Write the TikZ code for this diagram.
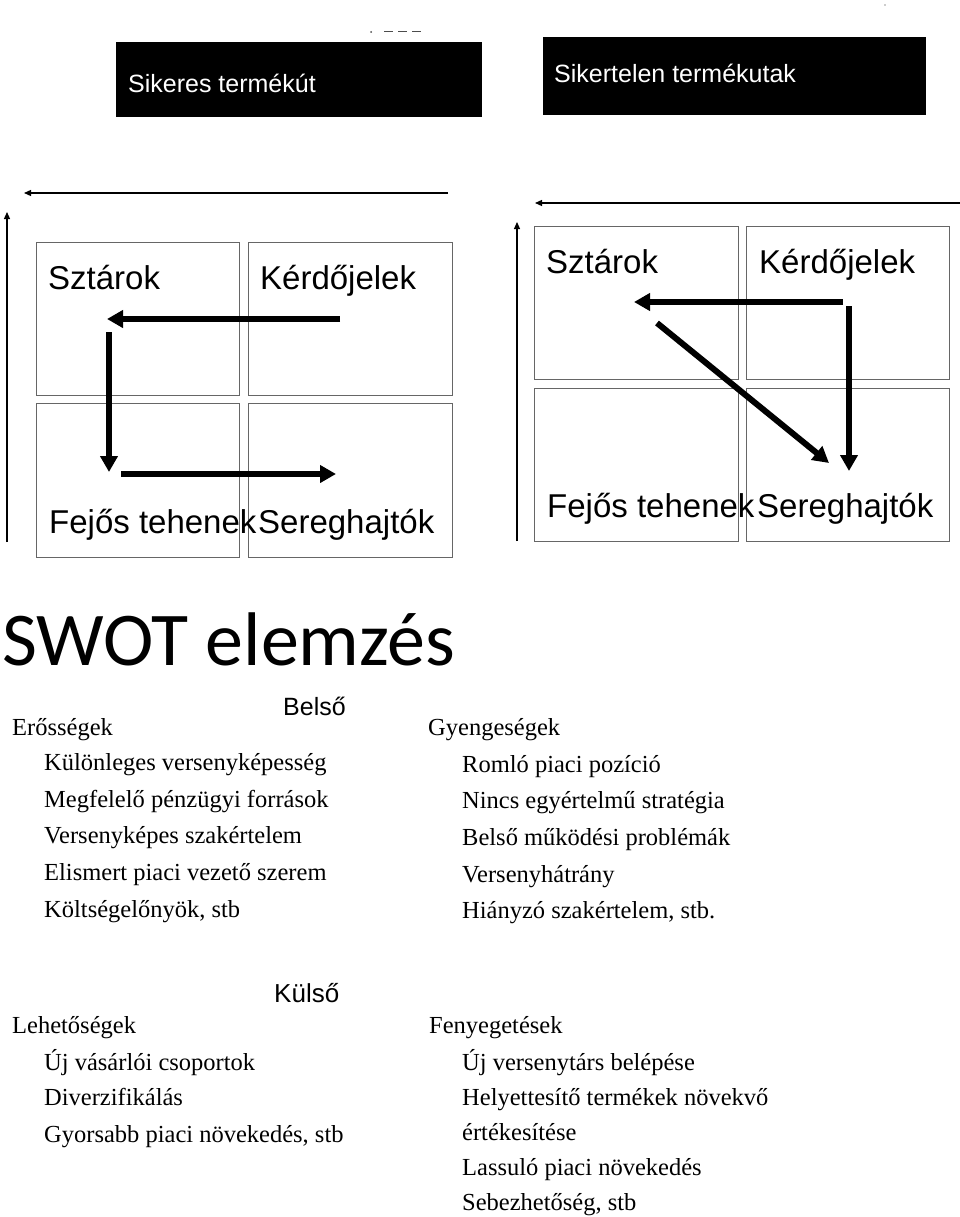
\documentclass[tikz,border=0pt]{standalone}
\usepackage{fontspec}
\setmainfont{Liberation Serif}
\newfontfamily\arialfont{Liberation Sans}
\newfontfamily\calibrifont{Carlito}
\usetikzlibrary{arrows.meta}
\begin{document}
\begin{tikzpicture}[x=1pt,y=-1pt,
  cell/.style={draw=black!60, line width=1pt, anchor=north west, inner sep=0pt},
  lbl/.style={anchor=base west, inner sep=0pt, font=\arialfont\fontsize{33}{33}\selectfont},
  txt/.style={anchor=base west, inner sep=0pt, font=\fontsize{24.5}{24.5}\selectfont},
  head/.style={anchor=base west, inner sep=0pt, font=\arialfont\fontsize{25}{25}\selectfont},
  thick arrow/.style={line width=6pt, -{Triangle[length=16pt,width=17pt]}},
  thin arrow/.style={line width=1.2pt, -{Triangle[length=7pt,width=6pt]}}]
\useasboundingbox (0,0) rectangle (960,1217);
% black title boxes
\node[fill=black, anchor=north west, inner sep=0pt, minimum width=366pt, minimum height=75pt] (ok) at (116,42){};
\node[fill=black, anchor=north west, inner sep=0pt, minimum width=383pt, minimum height=78pt] (nok) at (543,37){};
\node[head, text=white] (oktxt) at (128,93){Sikeres termékút};
\node[head, text=white] (noktxt) at (554,83){Sikertelen termékutak};
\draw[black!70, line width=1pt, dash pattern=on 9pt off 5pt] (384,32) -- (421,32);
\fill[black!70] (371,32) circle (1pt);
\fill[black!40] (885,5) circle (0.8pt);
% axes
\coordinate (lx0) at (448,193);
\coordinate (lx1) at (24,193);
\coordinate (ly0) at (7,542);
\coordinate (ly1) at (7,212);
\coordinate (rx0) at (960,203);
\coordinate (rx1) at (535,203);
\coordinate (ry0) at (517,541);
\coordinate (ry1) at (517,222);
\draw[thin arrow](lx0) -- (lx1);
\draw[thin arrow](ly0) -- (ly1);
\draw[thin arrow](rx0) -- (rx1);
\draw[thin arrow](ry0) -- (ry1);
% left matrix
\node[cell, minimum width=203pt, minimum height=153pt] (lsz) at (36,242){};
\node[cell, minimum width=204pt, minimum height=153pt] (lkj) at (248,242){};
\node[cell, minimum width=203pt, minimum height=154pt] (lft) at (36,403){};
\node[cell, minimum width=204pt, minimum height=154pt] (lsh) at (248,403){};
\node[lbl] (lsztxt) at (48,289){Sztárok};
\node[lbl] (lkjtxt) at (260,289){Kérdőjelek};
\node[lbl] (lfttxt) at (49,533){Fejős tehenek};
\node[lbl] (lshtxt) at (258,533){Sereghajtók};
\coordinate (la0) at (340,319);
\coordinate (la1) at (107,319);
\coordinate (lb0) at (109,332);
\coordinate (lb1) at (109,472);
\coordinate (lc0) at (121,474);
\coordinate (lc1) at (336,474);
\draw[thick arrow](la0) -- (la1);
\draw[thick arrow](lb0) -- (lb1);
\draw[thick arrow](lc0) -- (lc1);
% right matrix
\node[cell, minimum width=204pt, minimum height=153pt] (rsz) at (534,226){};
\node[cell, minimum width=203pt, minimum height=153pt] (rkj) at (746,226){};
\node[cell, minimum width=204pt, minimum height=153pt] (rft) at (534,388){};
\node[cell, minimum width=203pt, minimum height=153pt] (rsh) at (746,388){};
\node[lbl] (rsztxt) at (546,273){Sztárok};
\node[lbl] (rkjtxt) at (759,273){Kérdőjelek};
\node[lbl] (rfttxt) at (547,517){Fejős tehenek};
\node[lbl] (rshtxt) at (757,517){Sereghajtók};
\coordinate (ra0) at (843,302);
\coordinate (ra1) at (634,302);
\coordinate (rb0) at (849,306);
\coordinate (rb1) at (849,471);
\coordinate (rc0) at (657,323);
\coordinate (rc1) at (829,463);
\draw[thick arrow](ra0) -- (ra1);
\draw[thick arrow](rb0) -- (rb1);
\draw[thick arrow](rc0) -- (rc1);
% SWOT
\node[anchor=base west, inner sep=0pt, font=\calibrifont\fontsize{76}{76}\selectfont] (swot) at (2,665){SWOT elemzés};
\node[head] (belso) at (283,715){Belső};
\node[txt] (er0) at (12,735){Erősségek};
\node[txt] (er1) at (44,770){Különleges versenyképesség};
\node[txt] (er2) at (44,807){Megfelelő pénzügyi források};
\node[txt] (er3) at (44,843){Versenyképes szakértelem};
\node[txt] (er4) at (44,880){Elismert piaci vezető szerem};
\node[txt] (er5) at (44,917){Költségelőnyök, stb};
\node[txt] (gy0) at (428,735){Gyengeségek};
\node[txt] (gy1) at (462,772){Romló piaci pozíció};
\node[txt] (gy2) at (462,808){Nincs egyértelmű stratégia};
\node[txt] (gy3) at (462,845){Belső működési problémák};
\node[txt] (gy4) at (462,882){Versenyhátrány};
\node[txt] (gy5) at (462,918){Hiányzó szakértelem, stb.};
\node[head, font=\arialfont\fontsize{26}{26}\selectfont] (kulso) at (274,1002){Külső};
\node[txt] (le0) at (12,1033){Lehetőségek};
\node[txt] (le1) at (44,1070){Új vásárlói csoportok};
\node[txt] (le2) at (44,1105){Diverzifikálás};
\node[txt] (le3) at (44,1142){Gyorsabb piaci növekedés, stb};
\node[txt] (fe0) at (429,1033){Fenyegetések};
\node[txt] (fe1) at (462,1070){Új versenytárs belépése};
\node[txt] (fe2) at (462,1105){Helyettesítő termékek növekvő};
\node[txt] (fe3) at (462,1140){értékesítése};
\node[txt] (fe4) at (462,1175){Lassuló piaci növekedés};
\node[txt] (fe5) at (462,1210){Sebezhetőség, stb};
\end{tikzpicture}
\end{document}
